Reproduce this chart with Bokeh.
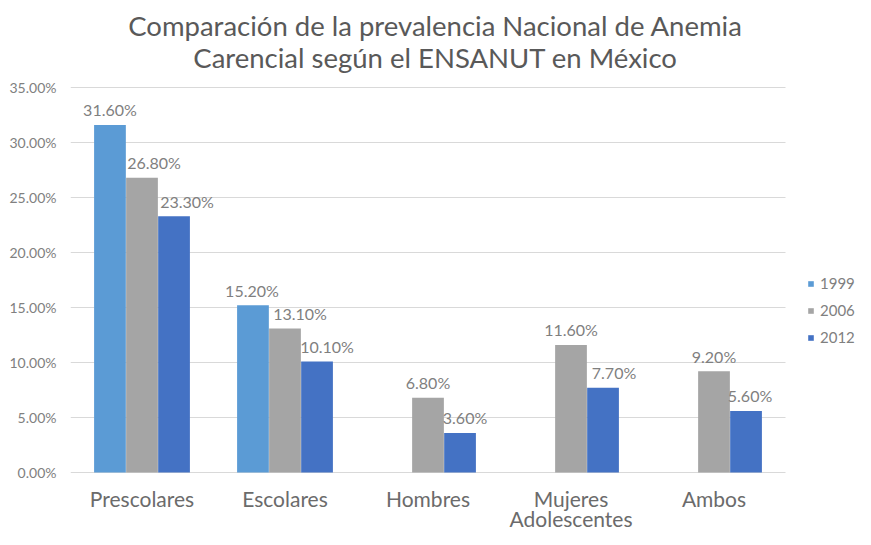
from bokeh.plotting import figure
from bokeh.models import (ColumnDataSource, FixedTicker, PrintfTickFormatter,
                          Legend, LegendItem, Label, Range1d)
from bokeh.transform import dodge
from bokeh.core.properties import value
from bokeh.embed import file_html
from bokeh.resources import INLINE

# ---- data ----
categories = ["Prescolares", "Escolares", "Hombres", "Mujeres\nAdolescentes", "Ambos"]
years = ["1999", "2006", "2012"]
v1999 = [31.6, 15.2, None, None, None]
v2006 = [26.8, 13.1, 6.8, 11.6, 9.2]
v2012 = [23.3, 10.1, 3.6, 7.7, 5.6]
y_ticks = [0, 5, 10, 15, 20, 25, 30, 35]

title_line1 = "Comparación de la prevalencia Nacional de Anemia"
title_line2 = "Carencial según el ENSANUT en México"

# ---- styles ----
colors = ["#5B9BD5", "#A5A5A5", "#4472C4"]
offsets = [-0.224, 0.0, 0.224]
label_dx = [[0, -1, 0, 0, 0], [12, 15, 0, 0, 0], [13, 10, 5, 11, 4]]
FONT = "Lato"

W, H = 855, 529
LEFT = 70               # left border (y tick labels)
CAT_PX = 143.0          # pixels per category
BASE_PX = 472.0         # pixel row of the 0 line
TOP_PX = 87.0           # pixel row of the top tick

xs = list(range(len(categories)))
y_top = max(y_ticks)
px_per_unit = (BASE_PX - TOP_PX) / y_top
# the plot frame spans the full canvas right of the y axis: headroom above holds the
# title, room below the 0 line holds the category labels
y_end = BASE_PX / px_per_unit
y_start = -(H - BASE_PX) / px_per_unit
x_end = -0.5 + (W - LEFT) / CAT_PX

p = figure(x_range=Range1d(-0.5, x_end), y_range=Range1d(y_start, y_end),
           width=W, height=H, output_backend="svg", toolbar_location=None,
           title_location=None,
           min_border_left=LEFT, min_border_right=0, min_border_top=0, min_border_bottom=0)
p.outline_line_color = None
p.background_fill_color = "white"
p.border_fill_color = "white"

renderers = []
for name, vals, color, off, dxs in zip(years, [v1999, v2006, v2012], colors, offsets, label_dx):
    rows = [(x, v, d) for x, v, d in zip(xs, vals, dxs) if v is not None]
    src = ColumnDataSource(dict(
        x=[r[0] for r in rows],
        val=[r[1] for r in rows],
        lab=["%.2f%%" % r[1] for r in rows],
        dx=[r[2] for r in rows],
    ))
    r = p.vbar(x=dodge("x", off), top="val", width=0.222,
               source=src, fill_color=color, line_color=None)
    renderers.append(r)
    p.text(x=dodge("x", off), y="val", text="lab", source=src,
           x_offset="dx", y_offset=-15, text_align="center", text_baseline="middle",
           text_font=value(FONT), text_font_size="16px", text_color="#7f7f7f")

# y axis
p.yaxis.ticker = FixedTicker(ticks=y_ticks)
p.yaxis.formatter = PrintfTickFormatter(format="%.2f%%")
p.yaxis.axis_line_color = None
p.yaxis.major_tick_line_color = None
p.yaxis.minor_tick_line_color = None
p.yaxis.major_tick_out = 0
p.yaxis.major_tick_in = 0
p.yaxis.minor_tick_out = 0
p.yaxis.major_label_text_font = FONT
p.yaxis.major_label_text_font_size = "14px"
p.yaxis.major_label_text_color = "#808080"
p.yaxis.major_label_standoff = 14

# category axis: labels hung under the 0 line
p.xaxis.visible = False
cat_src = ColumnDataSource(dict(x=xs, y=[0] * len(xs), name=categories))
p.text(x="x", y="y", text="name", source=cat_src, y_offset=13,
       text_align="center", text_baseline="top", text_line_height=0.8,
       text_font=value(FONT), text_font_size="21px", text_color="#6b6b6b")

p.ygrid.grid_line_color = "#d9d9d9"
p.ygrid.cross_bounds = (xs[0] - 0.5, xs[-1] + 0.5)
p.xgrid.grid_line_color = None

# title (two centred lines)
for txt, yy in [(title_line1, 504), (title_line2, 472)]:
    p.add_layout(Label(x=365, y=yy, x_units="screen", y_units="screen", text=txt,
                       text_align="center", text_baseline="middle", text_font=FONT,
                       text_font_size="27.5px", text_color="#595959"))

legend = Legend(items=[LegendItem(label=y, renderers=[r]) for y, r in zip(years, renderers)],
                location=(737, 183), glyph_width=7, glyph_height=7, label_standoff=6,
                spacing=9, padding=0, margin=0, border_line_color=None,
                background_fill_alpha=0, label_text_font=FONT, label_text_font_size="15px",
                label_text_color="#808080")
p.add_layout(legend, "center")

open("out.html", "w").write(file_html(p, INLINE))
